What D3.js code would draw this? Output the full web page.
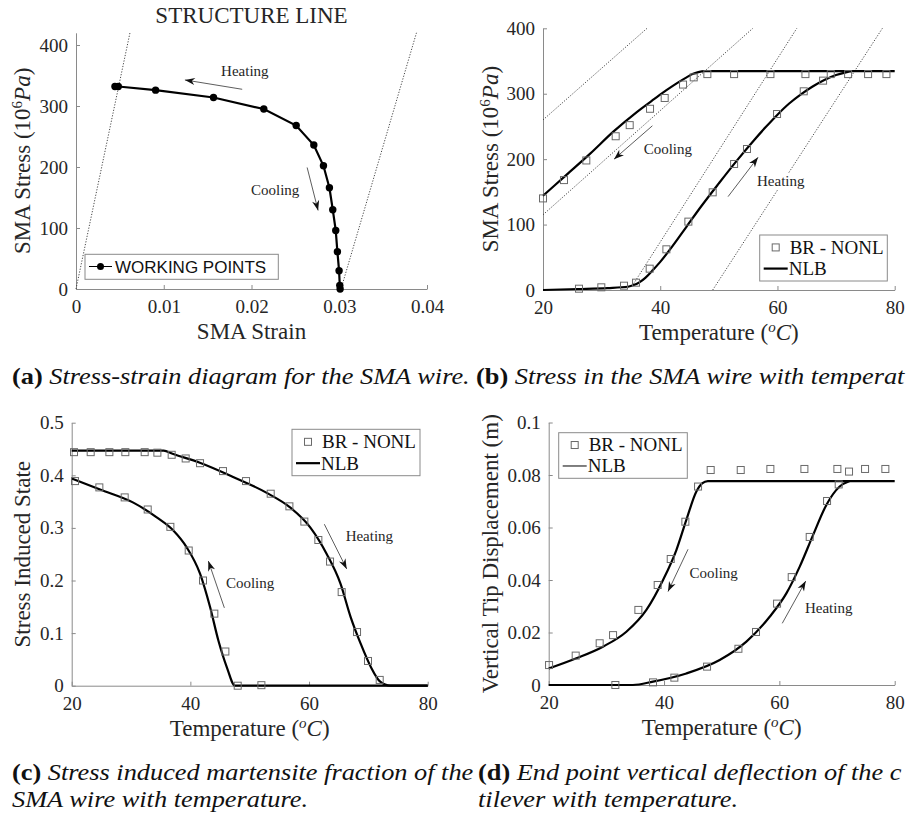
<!DOCTYPE html>
<html lang="en">
<head>
<meta charset="UTF-8">
<title>SMA wire response</title>
<script src="https://d3js.org/d3.v7.min.js"></script>
<style>
  body { margin: 0; background: #fff; }
  svg { display: block; }
  .axis path, .axis line { stroke: #8a8a8a; stroke-width: 1; }
  .axis .tick text { font-family: "Liberation Serif", serif; font-size: 19px; fill: #262626; }
  .lbl { font-family: "Liberation Serif", serif; font-size: 23px; fill: #262626; }
  .note { font-family: "Liberation Serif", serif; font-size: 15px; fill: #262626; }
  .leg-serif { font-family: "Liberation Serif", serif; font-size: 19px; fill: #111; }
  .leg-sans { font-family: "Liberation Sans", Arial, sans-serif; font-size: 17px; fill: #111; }
  .cap { font-family: "Liberation Serif", "Times New Roman", serif; font-size: 24px; fill: #111; }
</style>
</head>
<body>
<svg id="fig" width="907" height="822"></svg>
<script>
// ---------- (a) structure line ----------
const strainA = [0.00444, 0.00482, 0.00907, 0.01567, 0.0214, 0.02509, 0.0271, 0.0282, 0.02888, 0.02926, 0.0296, 0.02979, 0.02998, 0.03006, 0.0301];
const stressA = [332, 332, 326, 314, 295, 268, 236, 202, 166, 130, 96, 61, 30, 6, 0];
const refLinesA = [[0, 0, 0.00615, 420], [0.0302, 0, 0.0388, 420]];

// ---------- (b) stress vs temperature ----------
const tempBrB = [20, 23.58, 27.39, 32.4, 34.79, 38.26, 40.76, 43.89, 45.71, 48.04, 52.6, 58.8, 64.77, 69.09, 72.05, 75.46, 78.59,
                 26.14, 29.95, 33.82, 35.87, 38.2, 41.05, 44.8, 48.95, 52.6, 54.8, 59.93, 64.48, 67.78];
const stressBrB = [140, 168, 198, 235, 252, 277, 293.5, 314, 325, 330, 330, 330, 330, 330, 330, 330, 330,
                   2, 4.1, 6.6, 11.2, 32.6, 62.2, 104.5, 149.3, 192.6, 215.5, 269, 303.7, 320];
const tempNlbCoolB = [20, 24, 28, 32, 36, 39, 41, 43, 44.5, 45.5, 46.5, 47.5, 80];
const stressNlbCoolB = [144, 176, 208, 242, 272, 292, 305, 317, 325, 330, 333, 334.5, 334.5];
const tempNlbHeatB = [20, 26, 31, 34.5, 35.5, 36.5, 37.5, 38.8, 40, 42, 44.5, 47, 50, 53, 56, 58, 60, 62, 64, 66, 68, 70, 72, 72.6];
const stressNlbHeatB = [0, 1.5, 3, 5, 7.5, 12, 19, 31, 43, 66, 97, 128, 163, 197, 229, 249, 268, 285, 299, 311, 321, 328.5, 333.5, 334.5];
const refLinesB = [[20, 260, 37.75, 400], [20, 115, 55.8, 400], [35.2, 6, 63.3, 400], [48.95, 0, 77.9, 400]];

// ---------- (c) stress induced state ----------
const tempBrC = [20.39, 23.2, 26.35, 29.04, 32.3, 34.44, 36.85, 39.21, 41.63, 45.5, 49.38, 53.54, 56.69, 59.21, 61.57, 63.54, 65.5, 68.09, 69.94, 71.91,
                 20.56, 24.66, 28.93, 32.81, 36.63, 39.72, 42.13, 44.04, 45.9, 47.98, 51.97];
const fracBrC = [0.444, 0.444, 0.444, 0.444, 0.444, 0.443, 0.439, 0.432, 0.423, 0.408, 0.389, 0.365, 0.341, 0.312, 0.277, 0.236, 0.178, 0.102, 0.047, 0.011,
                 0.389, 0.377, 0.358, 0.335, 0.302, 0.257, 0.200, 0.137, 0.065, 0.0, 0.001];
const tempNlbHeatC = [20, 35.5, 37, 41.6, 47.2, 52.8, 56.8, 60.2, 63.0, 65.3, 67.0, 68.7, 70.4, 72.0, 73.7, 80];
const fracNlbHeatC = [0.447, 0.447, 0.441, 0.424, 0.397, 0.367, 0.339, 0.301, 0.250, 0.194, 0.131, 0.080, 0.036, 0.0076, 0, 0];
const tempNlbCoolC = [20, 24.78, 30.39, 34.33, 37.13, 39.38, 41.63, 43.31, 44.72, 46.12, 47.53, 80];
const fracNlbCoolC = [0.394, 0.373, 0.348, 0.320, 0.295, 0.263, 0.213, 0.150, 0.086, 0.036, 0, 0];

// ---------- (d) tip displacement ----------
const tempBrD = [20.06, 24.68, 28.84, 31.16, 35.55, 38.9, 41.16, 43.7, 45.9, 48.09, 53.3, 58.44, 64.34, 70.06, 72.08, 74.86, 78.38,
                 31.56, 38.09, 41.79, 47.46, 52.9, 55.95, 59.6, 62.14, 65.26, 68.27, 70.29];
const dispBrD = [0.0076, 0.0112, 0.0159, 0.0190, 0.0286, 0.0381, 0.0480, 0.0622, 0.0756, 0.0819, 0.0819, 0.0823, 0.0823, 0.0823, 0.0813, 0.0823, 0.0823,
                 0.0, 0.001, 0.0028, 0.007, 0.0138, 0.0202, 0.031, 0.0411, 0.0564, 0.0701, 0.0764];
const tempNlbCoolD = [20, 24.8, 29.4, 33.47, 36.94, 39.83, 42.14, 43.87, 45.61, 46.6, 47.6, 80];
const dispNlbCoolD = [0.0063, 0.0102, 0.0146, 0.0203, 0.0286, 0.040, 0.0514, 0.0629, 0.0737, 0.0768, 0.0777, 0.0777];
const tempNlbHeatD = [20, 34.6, 38.09, 43.87, 49.65, 54.28, 58.32, 61.21, 63.53, 65.84, 68.15, 70.46, 72.2];
const dispNlbHeatD = [0, 0, 0.0013, 0.0044, 0.0095, 0.0165, 0.026, 0.0349, 0.0451, 0.0571, 0.0686, 0.0756, 0.0777];

// ---------- annotations (data units) ----------
const notesA = [
  {text: "Heating", tx: 0.01924, ty: 349, from: [0.01894, 327.4], to: [0.01241, 342.7]},
  {text: "Cooling", tx: 0.0227, ty: 154, from: [0.02634, 199.2], to: [0.02759, 128.8]}
];
const notesB = [
  {text: "Cooling", tx: 41.3, ty: 208, from: [38.66, 251], to: [32.12, 200]},
  {text: "Heating", tx: 60.56, ty: 159, from: [51.57, 142.7], to: [56.69, 202.8]}
];
const notesC = [
  {text: "Cooling", tx: 50.06, ty: 0.186, from: [45.73, 0.148], to: [43.03, 0.237]},
  {text: "Heating", tx: 70.17, ty: 0.2744, from: [62.58, 0.307], to: [66.35, 0.222]}
];
const notesD = [
  {text: "Cooling", tx: 48.6, ty: 0.0406, from: [44.16, 0.0517], to: [40.69, 0.0356]},
  {text: "Heating", tx: 68.55, ty: 0.0273, from: [60.5, 0.0235], to: [64.57, 0.0396]}
];

const svg = d3.select("#fig");

svg.append("defs").append("marker")
  .attr("id", "head")
  .attr("markerUnits", "userSpaceOnUse")
  .attr("viewBox", "-11 -5 12 10")
  .attr("markerWidth", 12).attr("markerHeight", 10)
  .attr("refX", 0).attr("refY", 0)
  .attr("orient", "auto")
  .append("path")
  .attr("d", "M0,0 L-10,-3.6 L-7,0 L-10,3.6 Z")
  .attr("fill", "#111");

const frames = {
  a: {left: 76, right: 427, top: 32.8, bottom: 289},
  b: {left: 543, right: 894.7, top: 28.3, bottom: 290},
  c: {left: 71.7, right: 427.7, top: 422.7, bottom: 685.7},
  d: {left: 548.7, right: 894.7, top: 422.5, bottom: 685}
};

function panel(key, xDomain, yDomain, xTicks, yTicks) {
  const f = frames[key];
  const x = d3.scaleLinear().domain(xDomain).range([f.left, f.right]);
  const y = d3.scaleLinear().domain(yDomain).range([f.bottom, f.top]);
  const g = svg.append("g").attr("class", "panel-" + key);
  g.append("g").attr("class", "axis")
    .attr("transform", `translate(0,${f.bottom})`)
    .call(d3.axisBottom(x).tickValues(xTicks).tickFormat(d3.format("~g"))
      .tickSizeInner(-4).tickSizeOuter(0).tickPadding(10.5));
  g.append("g").attr("class", "axis")
    .attr("transform", `translate(${f.left},0)`)
    .call(d3.axisLeft(y).tickValues(yTicks).tickFormat(d3.format("~g"))
      .tickSizeInner(-4).tickSizeOuter(0).tickPadding(8));
  return {g, x, y, f};
}

function xLabel(p, parts) {
  const t = p.g.append("text").attr("class", "lbl")
    .attr("x", (p.f.left + p.f.right) / 2).attr("y", p.f.bottom + 50)
    .attr("text-anchor", "middle");
  parts(t);
}

function yLabel(p, cx, parts) {
  const cy = (p.f.top + p.f.bottom) / 2;
  const t = p.g.append("text").attr("class", "lbl")
    .attr("transform", `translate(${cx},${cy}) rotate(-90)`)
    .attr("dy", "0.35em")
    .attr("text-anchor", "middle");
  parts(t);
}

function tempLabel(t) {
  t.append("tspan").text("Temperature (");
  t.append("tspan").attr("font-style", "italic").attr("font-size", 15).attr("dy", -8).text("o");
  t.append("tspan").attr("font-style", "italic").attr("dy", 8).text("C");
  t.append("tspan").text(")");
}

function stressLabel(t) {
  t.append("tspan").text("SMA Stress (10");
  t.append("tspan").attr("font-size", 15).attr("dy", -8).text("6");
  t.append("tspan").attr("font-style", "italic").attr("dy", 8).text("Pa");
  t.append("tspan").text(")");
}

function refLines(p, lines) {
  p.g.append("g").selectAll("line").data(lines).join("line")
    .attr("x1", d => p.x(d[0])).attr("y1", d => p.y(d[1]))
    .attr("x2", d => p.x(d[2])).attr("y2", d => p.y(d[3]))
    .attr("stroke", "#333").attr("stroke-width", 0.9)
    .attr("stroke-dasharray", "1.2 1.6");
}

function curve(p, xs, ys, width) {
  const line = d3.line().x(d => p.x(d[0])).y(d => p.y(d[1])).curve(d3.curveMonotoneX);
  p.g.append("path").datum(d3.zip(xs, ys))
    .attr("d", line).attr("fill", "none")
    .attr("stroke", "#000").attr("stroke-width", width || 2.2)
    .attr("stroke-linejoin", "round");
}

function squares(p, xs, ys) {
  p.g.append("g").selectAll("rect").data(d3.zip(xs, ys)).join("rect")
    .attr("x", d => p.x(d[0]) - 3.5).attr("y", d => p.y(d[1]) - 3.5)
    .attr("width", 7).attr("height", 7)
    .attr("fill", "none").attr("stroke", "#6a6a6a").attr("stroke-width", 1);
}

function notes(p, list) {
  const g = p.g.append("g");
  list.forEach(n => {
    const t = g.append("text").attr("class", "note")
      .attr("x", p.x(n.tx)).attr("y", p.y(n.ty))
      .attr("text-anchor", "middle").text(n.text);
    const bb = t.node().getBBox();
    g.insert("rect", "text")
      .attr("x", bb.x - 1).attr("y", bb.y).attr("width", bb.width + 2).attr("height", bb.height)
      .attr("fill", "#fff");
    g.append("line")
      .attr("x1", p.x(n.from[0])).attr("y1", p.y(n.from[1]))
      .attr("x2", p.x(n.to[0])).attr("y2", p.y(n.to[1]))
      .attr("stroke", "#333").attr("stroke-width", 0.8)
      .attr("marker-end", "url(#head)");
  });
}

function legend(p, box, lineWidth) {
  const g = p.g.append("g");
  g.append("rect").attr("x", box[0]).attr("y", box[1])
    .attr("width", box[2] - box[0]).attr("height", box[3] - box[1])
    .attr("fill", "#fff").attr("stroke", "#8a8a8a").attr("stroke-width", 1);
  const r1 = box[1] + (box[3] - box[1]) * 0.27;
  const r2 = box[1] + (box[3] - box[1]) * 0.73;
  const lx0 = box[0] + 4, lx1 = box[0] + 28;
  g.append("rect").attr("x", (lx0 + lx1) / 2 - 3.5).attr("y", r1 - 3.5)
    .attr("width", 7).attr("height", 7).attr("fill", "none")
    .attr("stroke", "#6a6a6a").attr("stroke-width", 1);
  g.append("text").attr("class", "leg-serif").attr("x", lx1 + 2).attr("y", r1).attr("dy", "0.34em").text("BR - NONL");
  g.append("line").attr("x1", lx0).attr("x2", lx1).attr("y1", r2).attr("y2", r2)
    .attr("stroke", "#000").attr("stroke-width", lineWidth);
  g.append("text").attr("class", "leg-serif").attr("x", lx1 + 1).attr("y", r2).attr("dy", "0.34em").text("NLB");
}

// ===== panel (a)
const pa = panel("a", [0, 0.04], [0, 420], [0, 0.01, 0.02, 0.03, 0.04], [0, 100, 200, 300, 400]);
refLines(pa, refLinesA);
pa.g.append("path").datum(d3.zip(strainA, stressA))
  .attr("d", d3.line().x(d => pa.x(d[0])).y(d => pa.y(d[1])))
  .attr("fill", "none").attr("stroke", "#000").attr("stroke-width", 2.2);
pa.g.append("g").selectAll("circle").data(d3.zip(strainA, stressA)).join("circle")
  .attr("cx", d => pa.x(d[0])).attr("cy", d => pa.y(d[1])).attr("r", 3.7).attr("fill", "#000");
notes(pa, notesA);
pa.g.append("text").attr("class", "lbl").attr("x", (frames.a.left + frames.a.right) / 2).attr("y", 23)
  .attr("text-anchor", "middle").text("STRUCTURE LINE");
xLabel(pa, t => t.text("SMA Strain"));
yLabel(pa, 22, stressLabel);
{
  const g = pa.g.append("g");
  g.append("rect").attr("x", 85).attr("y", 254.3).attr("width", 193.3).attr("height", 25)
    .attr("fill", "#fff").attr("stroke", "#8a8a8a");
  g.append("line").attr("x1", 89).attr("x2", 112).attr("y1", 266.5).attr("y2", 266.5)
    .attr("stroke", "#000").attr("stroke-width", 1);
  g.append("circle").attr("cx", 100.5).attr("cy", 266.5).attr("r", 3.5).attr("fill", "#000");
  g.append("text").attr("class", "leg-sans").attr("x", 115).attr("y", 266.5).attr("dy", "0.36em").text("WORKING POINTS");
}

// ===== panel (b)
const pb = panel("b", [20, 80], [0, 400], [20, 40, 60, 80], [0, 100, 200, 300, 400]);
refLines(pb, refLinesB);
curve(pb, tempNlbCoolB, stressNlbCoolB);
curve(pb, tempNlbHeatB, stressNlbHeatB);
squares(pb, tempBrB, stressBrB);
notes(pb, notesB);
xLabel(pb, tempLabel);
yLabel(pb, 489.7, stressLabel);
legend(pb, [759.7, 235, 887.3, 281], 2.2);

// ===== panel (c)
const pc = panel("c", [20, 80], [0, 0.5], [20, 40, 60, 80], [0, 0.1, 0.2, 0.3, 0.4, 0.5]);
curve(pc, tempNlbHeatC, fracNlbHeatC);
curve(pc, tempNlbCoolC, fracNlbCoolC);
squares(pc, tempBrC, fracBrC);
notes(pc, notesC);
xLabel(pc, tempLabel);
yLabel(pc, 21.7, t => t.text("Stress Induced State"));
legend(pc, [292, 429.3, 420, 475.7], 2.2);

// ===== panel (d)
const pd = panel("d", [20, 80], [0, 0.1], [20, 40, 60, 80], [0, 0.02, 0.04, 0.06, 0.08, 0.1]);
curve(pd, tempNlbCoolD, dispNlbCoolD);
curve(pd, tempNlbHeatD, dispNlbHeatD);
squares(pd, tempBrD, dispBrD);
notes(pd, notesD);
xLabel(pd, tempLabel);
yLabel(pd, 489.7, t => t.text("Vertical Tip Displacement (m)"));
legend(pd, [558.7, 432.7, 687.3, 478.3], 1);

// ===== captions (the page is cropped on the right, so long lines stop at the edge)
const captions = [
  {x: 12, y: 384, tag: "(a)", text: " Stress-strain diagram for the SMA wire."},
  {x: 476, y: 384, tag: "(b)", text: " Stress in the SMA wire with temperature."},
  {x: 12, y: 780, tag: "(c)", text: " Stress induced martensite fraction of the"},
  {x: 12, y: 807, tag: "", text: "SMA wire with temperature."},
  {x: 478, y: 780, tag: "(d)", text: " End point vertical deflection of the can-"},
  {x: 478, y: 807, tag: "", text: "tilever with temperature."}
];
const capNodes = captions.map(c => {
  const t = svg.append("text").attr("class", "cap");
  if (c.tag) t.append("tspan").attr("font-weight", "bold").text(c.tag);
  const body = t.append("tspan").attr("font-style", "italic").text(c.text);
  return {c, t, body};
});
const sx = (470 - 12) / capNodes[0].t.node().getComputedTextLength();
capNodes.forEach(({c, t, body}) => {
  t.attr("transform", `translate(${c.x},${c.y}) scale(${sx},1)`);
  let s = c.text;
  while (c.x + sx * t.node().getComputedTextLength() > 906 && s.length > 1) {
    s = s.slice(0, -1);
    body.text(s);
  }
});
</script>
</body>
</html>
